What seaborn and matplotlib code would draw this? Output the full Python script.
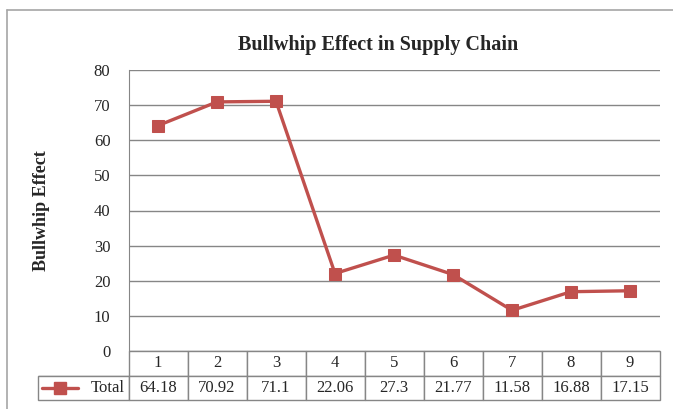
import numpy as np
import pandas as pd
import matplotlib
matplotlib.use("Agg")
import matplotlib.pyplot as plt
import seaborn as sns
from matplotlib.lines import Line2D

# Data

periods = ["1", "2", "3", "4", "5", "6", "7", "8", "9"]
total = [64.18, 70.92, 71.1, 22.06, 27.3, 21.77, 11.58, 16.88, 17.15]
series_name = "Total"
title = "Bullwhip Effect in Supply Chain"
y_label = "Bullwhip Effect"

# Style

sns.set_style("white")
plt.rcParams["font.family"] = ["Liberation Serif", "DejaVu Serif"]

RED = "#C0504D"
GRID = "#868686"
W, H = 673, 409

fig = plt.figure(figsize=(W / 100, H / 100), dpi=100)
left, right, top, bottom = 128.5, 659.5, 70, 351
ax = fig.add_axes([left / W, 1 - bottom / H, (right - left) / W, (bottom - top) / H])

df = pd.DataFrame({"pos": np.arange(len(periods)), "value": total})
sns.lineplot(data=df, x="pos", y="value", ax=ax, color=RED, linewidth=2.4,
             marker="s", markersize=9, markeredgecolor=RED, zorder=5)

ax.set_xlim(-0.5, len(periods) - 0.5)
ax.set_ylim(0, 80)
ax.set_yticks(range(0, 81, 10))
ax.set_xticks([])
ax.set_xlabel("")
ax.set_ylabel("")
ax.grid(axis="y", color=GRID, linewidth=1)
for s in ["top", "right", "bottom"]:
    ax.spines[s].set_visible(False)
ax.spines["left"].set_color(GRID)
ax.tick_params(axis="y", length=0, pad=13, labelsize=12)

fig.text(378 / W, 1 - 45 / H, title, ha="center", va="center",
         fontsize=14.5, fontweight="bold")
fig.text(42 / W, 1 - 211 / H, y_label, rotation=90, ha="center", va="center",
         fontsize=13, fontweight="bold")

# Data table under the axis
plot_w = right - left
plot_h = bottom - top
tab_left = 38
row_h = 24.5
first_w = left - tab_left
col_w = plot_w / len(periods)
cells = [[""] + periods, [series_name] + [f"{v:g}" for v in total]]
tbl = ax.table(cellText=cells,
               colWidths=[first_w] + [col_w] * len(periods),
               bbox=[(tab_left - left) / plot_w, -2 * row_h / plot_h,
                     (right - tab_left) / plot_w, 2 * row_h / plot_h],
               cellLoc="center")
tbl.auto_set_font_size(False)
tbl.set_fontsize(12)
for (r, c), cell in tbl.get_celld().items():
    cell.set_edgecolor(GRID)
    cell.set_linewidth(1)
    cell.get_text().set_fontfamily(["Liberation Serif", "DejaVu Serif"])
    if r == 0 and c == 0:
        cell.visible_edges = "B"
    if r == 1 and c == 0:
        cell.get_text().set_ha("right")
        cell.PAD = 0.04

# legend key inside the table
ky = 1 - 388 / H
fig.add_artist(Line2D([42 / W, 78 / W], [ky, ky], color=RED, linewidth=2.4,
                      transform=fig.transFigure))
fig.add_artist(Line2D([60 / W], [ky], color=RED, marker="s", markersize=9,
                      transform=fig.transFigure))

# outer chart border
fig.add_artist(Line2D([7 / W, 1], [1 - 10 / H, 1 - 10 / H], color="#A6A6A6",
                      linewidth=1.2, transform=fig.transFigure))
fig.add_artist(Line2D([7 / W, 7 / W], [1 - 10 / H, 0], color="#A6A6A6",
                      linewidth=1.2, transform=fig.transFigure))

fig.savefig("out.png", dpi=100)
